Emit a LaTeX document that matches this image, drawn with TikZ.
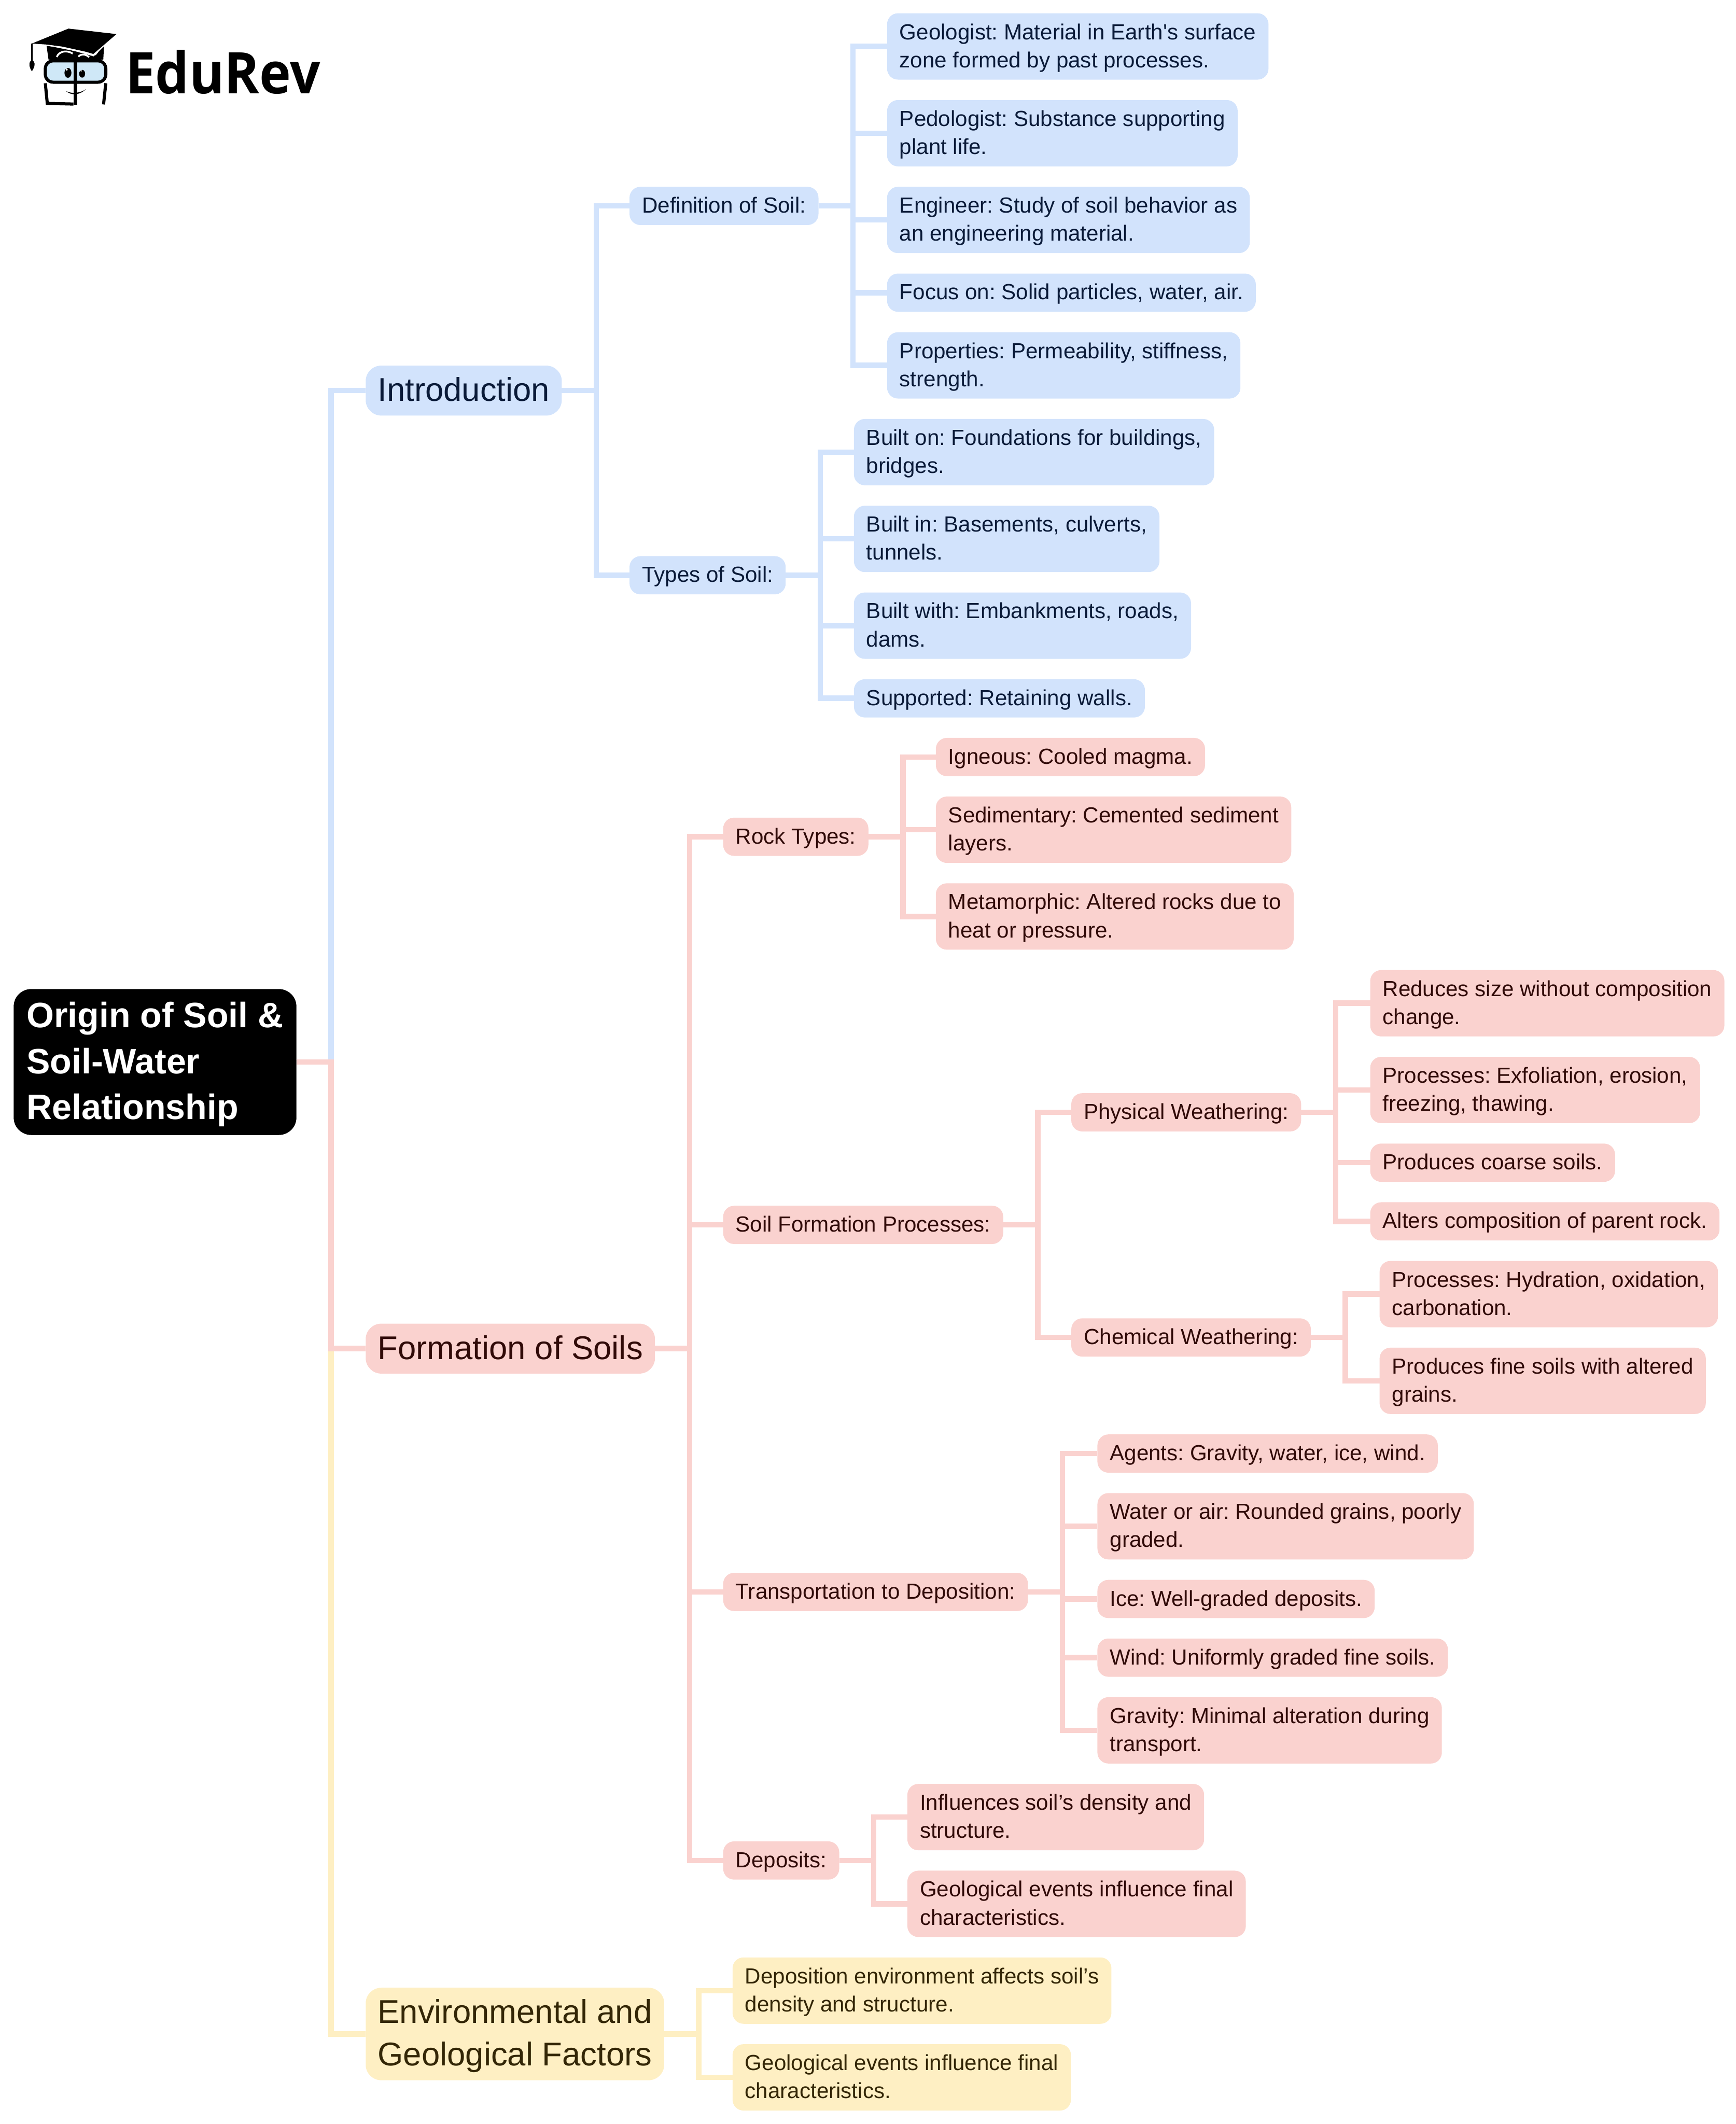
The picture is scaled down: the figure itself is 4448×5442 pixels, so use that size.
\documentclass[tikz,border=0pt]{standalone}
\usepackage{fontspec}
\setmainfont{Liberation Sans}[Ligatures=TeXOff]
\newfontfamily\logofont{Open Sans}[FakeStretch=0.93]
\usetikzlibrary{positioning, calc}
\definecolor{fillblue}{HTML}{D2E3FC}
\definecolor{fillred}{HTML}{FAD2CF}
\definecolor{fillyellow}{HTML}{FEEFC3}
\definecolor{textblue}{HTML}{0A1A38}
\definecolor{textred}{HTML}{300A08}
\definecolor{textyellow}{HTML}{332606}
\definecolor{lensblue}{HTML}{CFE8F7}
\frenchspacing
\newcommand{\linestrut}{\rule[-.25\baselineskip]{0pt}{\baselineskip}}
\newcommand{\twolines}[2]{\linestrut#1\\#2\linestrut}

\begin{document}
\begin{tikzpicture}[x=0.1pt,y=-0.1pt,
    box/.style={rounded corners=2.8pt,inner xsep=3.2pt,inner ysep=1.3pt,outer sep=0pt,align=left},
    leaf/.style={box,font=\fontsize{5.6}{7.2}\selectfont},
    first/.style={leaf,anchor=north west},
    next/.style={leaf,below=5.23pt of #1.south west,anchor=north west},
    top/.style={box,rounded corners=4pt,inner xsep=3.1pt,inner ysep=0.95pt,anchor=west,
        font=\fontsize{8.43}{10.9}\selectfont},
    inblue/.style={fill=fillblue,text=textblue},
    inred/.style={fill=fillred,text=textred},
    inyellow/.style={fill=fillyellow,text=textyellow},
    link/.style={line width=1.4pt,
        to path={(\tikztostart.east) -- ++(8.85pt,0) |- (\tikztotarget.west)}}]
    \useasboundingbox (0,0) rectangle (4448,5442);
    \coordinate (colone) at (937,0);
    \coordinate (coltwo) at (1613,0);
    \coordinate (colred) at (1853,0);
    \coordinate (colthree) at (2745,0);

    % logo
    \begin{scope}[x=0.06378pt,y=-0.03333pt]
        \fill (187,350) -- (195,458) -- (415,458) -- (418,345) -- (385,425) -- cycle;
        \draw[white,line width=0.5pt] (185,345) -- (250,358) -- (375,425) -- (420,340);
        \fill (275,220) -- (468,262) -- (375,415) -- (345,398) -- (250,358) -- (185,342) -- (128,335) -- cycle;
        \draw[line width=0.4pt] (128,335) -- (128,465);
        \fill (128,460) .. controls (112,480) and (118,520) .. (128,548) .. controls (140,515) and (145,480) .. (128,460);
        \draw[white,line width=0.45pt] (228,438) .. controls (238,390) and (270,385) .. (292,412);
        \draw[white,line width=0.45pt] (315,436) .. controls (325,412) and (345,415) .. (358,440);
        \draw[line width=0.8pt,fill=lensblue,rounded corners=2pt] (182,468) rectangle (425,632);
        \draw[line width=0.8pt] (182,640) -- (190,795) -- (295,800);
        \draw[line width=0.8pt] (425,640) -- (416,803);
        \draw[line width=0.9pt] (303,455) -- (303,806);
        \fill (273,560) ellipse [x radius=14,y radius=38];
        \fill (330,567) ellipse [x radius=12,y radius=30];
        \fill[white] (268,535) ellipse [x radius=4,y radius=8];
        \fill[white] (326,545) ellipse [x radius=3,y radius=7];
        \fill (265,700) .. controls (285,735) and (320,735) .. (345,685) .. controls (325,715) and (290,725) .. (265,700);
    \end{scope}
    \node[anchor=base west,inner sep=0pt,outer sep=0pt] (edurev) at (322,240) {\logofont\fontsize{14.7}{14.7}\selectfont\bfseries EduRev};

    % introduction leaves
    \node[first,inblue] (geologist) at (2273,34) {\twolines{Geologist: Material in Earth's surface}{zone formed by past processes.}};
    \node[next=geologist,inblue] (pedologist) {\twolines{Pedologist: Substance supporting}{plant life.}};
    \node[next=pedologist,inblue] (engineer) {\twolines{Engineer: Study of soil behavior as}{an engineering material.}};
    \node[next=engineer,inblue] (focus) {\linestrut Focus on: Solid particles, water, air.};
    \node[next=focus,inblue] (properties) {\twolines{Properties: Permeability, stiffness,}{strength.}};
    \node[next=properties,inblue,xshift=-8.5pt] (builton) {\twolines{Built on: Foundations for buildings,}{bridges.}};
    \node[next=builton,inblue] (builtin) {\twolines{Built in: Basements, culverts,}{tunnels.}};
    \node[next=builtin,inblue] (builtwith) {\twolines{Built with: Embankments, roads,}{dams.}};
    \node[next=builtwith,inblue] (supported) {\linestrut Supported: Retaining walls.};

    % formation leaves
    \node[next=supported,inred,xshift=21pt] (igneous) {\linestrut Igneous: Cooled magma.};
    \node[next=igneous,inred] (sedimentary) {\twolines{Sedimentary: Cemented sediment}{layers.}};
    \node[next=sedimentary,inred] (metamorphic) {\twolines{Metamorphic: Altered rocks due to}{heat or pressure.}};
    \node[next=metamorphic,inred,xshift=111.3pt] (reduces) {\twolines{Reduces size without composition}{change.}};
    \node[next=reduces,inred] (exfoliation) {\twolines{Processes: Exfoliation, erosion,}{freezing, thawing.}};
    \node[next=exfoliation,inred] (coarse) {\linestrut Produces coarse soils.};
    \node[next=coarse,inred] (alters) {\linestrut Alters composition of parent rock.};
    \node[next=alters,inred,xshift=2.4pt] (hydration) {\twolines{Processes: Hydration, oxidation,}{carbonation.}};
    \node[next=hydration,inred] (fine) {\twolines{Produces fine soils with altered}{grains.}};
    \node[next=fine,inred,xshift=-72.3pt] (agents) {\linestrut Agents: Gravity, water, ice, wind.};
    \node[next=agents,inred] (rounded) {\twolines{Water or air: Rounded grains, poorly}{graded.}};
    \node[next=rounded,inred] (ice) {\linestrut Ice: Well-graded deposits.};
    \node[next=ice,inred] (wind) {\linestrut Wind: Uniformly graded fine soils.};
    \node[next=wind,inred] (gravity) {\twolines{Gravity: Minimal alteration during}{transport.}};
    \node[next=gravity,inred,xshift=-48.7pt] (influences) {\twolines{Influences soil’s density and}{structure.}};
    \node[next=influences,inred] (events) {\twolines{Geological events influence final}{characteristics.}};

    % environment leaves
    \node[next=events,inyellow,xshift=-44.8pt] (deposition) {\twolines{Deposition environment affects soil’s}{density and structure.}};
    \node[next=deposition,inyellow] (finalevents) {\twolines{Geological events influence final}{characteristics.}};

    % branches
    \node[leaf,inblue,anchor=west] (definition) at ($(coltwo|-geologist.west)!.5!(coltwo|-properties.west)$) {\linestrut Definition of Soil:};
    \node[leaf,inblue,anchor=west] (types) at ($(coltwo|-builton.west)!.5!(coltwo|-supported.west)$) {\linestrut Types of Soil:};
    \node[leaf,inred,anchor=west] (rock) at ($(colred|-igneous.west)!.5!(colred|-metamorphic.west)$) {\linestrut Rock Types:};
    \node[leaf,inred,anchor=west] (physical) at ($(colthree|-reduces.west)!.5!(colthree|-alters.west)$) {\linestrut Physical Weathering:};
    \node[leaf,inred,anchor=west] (chemical) at ($(colthree|-hydration.west)!.5!(colthree|-fine.west)$) {\linestrut Chemical Weathering:};
    \node[leaf,inred,anchor=west] (process) at ($(colred|-physical.west)!.5!(colred|-chemical.west)$) {\linestrut Soil Formation Processes:};
    \node[leaf,inred,anchor=west] (transport) at ($(colred|-agents.west)!.5!(colred|-gravity.west)$) {\linestrut Transportation to Deposition:};
    \node[leaf,inred,anchor=west] (deposits) at ($(colred|-influences.west)!.5!(colred|-events.west)$) {\linestrut Deposits:};

    % main nodes
    \node[top,inblue] (intro) at ($(colone|-definition.west)!.5!(colone|-types.west)$) {\linestrut Introduction};
    \node[top,inred] (formation) at ($(colone|-rock.west)!.5!(colone|-deposits.west)$) {\linestrut Formation of Soils};
    \node[top,inyellow] (environment) at ($(colone|-deposition.west)!.5!(colone|-finalevents.west)$) {\twolines{Environmental and}{Geological Factors}};
    \node[box,rounded corners=4.5pt,inner xsep=3.3pt,inner ysep=1.15pt,anchor=west,fill=black,text=white,
        font=\fontsize{9.05}{11.7}\selectfont\bfseries] (root) at (35,2721) {\linestrut Origin of Soil \&\\Soil-Water\\Relationship\linestrut};

    % connectors
    \path[link,fillyellow] (root) edge (environment);
    \path[link,fillblue] (root) edge (intro);
    \path[link,fillred] (root) edge (formation);
    \path[link,fillblue]
        (intro) edge (definition)
                edge (types)
        (definition) edge (geologist)
                edge (pedologist)
                edge (engineer)
                edge (focus)
                edge (properties)
        (types) edge (builton)
                edge (builtin)
                edge (builtwith)
                edge (supported);
    \path[link,fillred]
        (formation) edge (rock)
                edge (process)
                edge (transport)
                edge (deposits)
        (rock) edge (igneous)
                edge (sedimentary)
                edge (metamorphic)
        (process) edge (physical)
                edge (chemical)
        (physical) edge (reduces)
                edge (exfoliation)
                edge (coarse)
                edge (alters)
        (chemical) edge (hydration)
                edge (fine)
        (transport) edge (agents)
                edge (rounded)
                edge (ice)
                edge (wind)
                edge (gravity)
        (deposits) edge (influences)
                edge (events);
    \path[link,fillyellow]
        (environment) edge (deposition)
                edge (finalevents);
\end{tikzpicture}
\end{document}
